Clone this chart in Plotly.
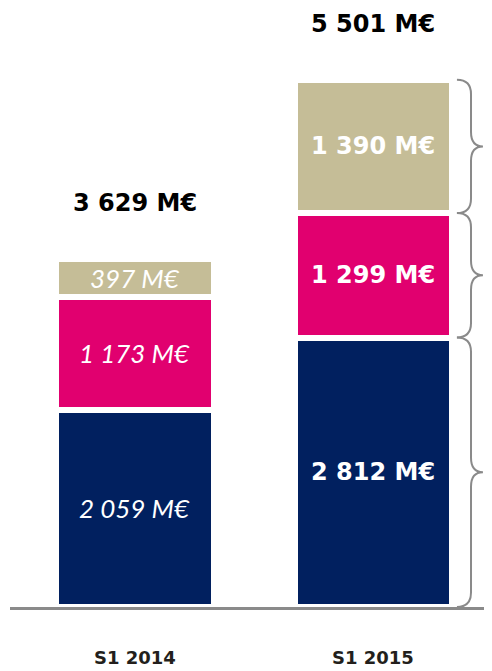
import plotly.graph_objects as go

categories = ["S1 2014", "S1 2015"]
series_names = ["Bas", "Milieu", "Haut"]
navy_vals = [2059, 2812]
pink_vals = [1173, 1299]
tan_vals = [397, 1390]
navy_labels = ["2 059 M€", "2 812 M€"]
pink_labels = ["1 173 M€", "1 299 M€"]
tan_labels = ["397 M€", "1 390 M€"]
total_labels = ["3 629 M€", "5 501 M€"]

NAVY = "#01205F"
PINK = "#E1006F"
TAN = "#C5BD97"
ITAL_FONT = "Lato"
BOLD_FONT = "DejaVu Sans"

xs = [0, 1]
bw = 0.662
fig = go.Figure()
for vals, col, name in [(navy_vals, NAVY, series_names[0]), (pink_vals, PINK, series_names[1]), (tan_vals, TAN, series_names[2])]:
    fig.add_trace(go.Bar(x=xs, y=vals, name=name, marker=dict(color=col, line=dict(color="white", width=6)),
                         width=bw, hoverinfo="skip"))

annotations = []
bottoms = [0, 0]
for vals, labs in [(navy_vals, navy_labels), (pink_vals, pink_labels), (tan_vals, tan_labels)]:
    for i in range(2):
        mid = bottoms[i] + vals[i] / 2
        if i == 0:
            f = dict(family=ITAL_FONT, size=26, color="white", style="italic", weight="normal")
        else:
            f = dict(family=BOLD_FONT, size=24, color="white", weight="bold")
        annotations.append(dict(x=xs[i], y=mid, text=labs[i], showarrow=False, xref="x", yref="y", font=f))
        bottoms[i] += vals[i]

totals = bottoms[:]
for i in range(2):
    annotations.append(dict(x=xs[i], y=totals[i], text=total_labels[i], showarrow=False, xref="x", yref="y",
                            yanchor="middle", yshift=56,
                            font=dict(family=BOLD_FONT, size=24, color="black", weight="bold")))
    annotations.append(dict(x=xs[i], y=0, text=categories[i], showarrow=False, xref="x", yref="y",
                            yanchor="middle", yshift=-50,
                            font=dict(family=BOLD_FONT, size=18, color="#231f1c", weight="bold")))

# braces next to the second bar, spanning each segment
shapes = []
seg_bounds = [0, navy_vals[1], navy_vals[1] + pink_vals[1], totals[1]]
xl, xc, xt = 1.350, 1.409, 1.459
r = 150
for k in range(3):
    a, b = seg_bounds[k], seg_bounds[k + 1]
    m = (a + b) / 2
    path = (f"M {xl},{b} Q {xc},{b} {xc},{b - r} L {xc},{m + r} Q {xc},{m} {xt},{m} "
            f"Q {xc},{m} {xc},{m - r} L {xc},{a + r} Q {xc},{a} {xl},{a}")
    shapes.append(dict(type="path", path=path, xref="x", yref="y",
                       line=dict(color="#8a8a8a", width=2)))

fig.update_layout(
    width=484, height=663,
    margin=dict(l=2, r=0, t=0, b=64),
    plot_bgcolor="white", paper_bgcolor="white",
    barmode="stack", showlegend=False,
    annotations=annotations, shapes=shapes,
    xaxis=dict(range=[-0.524, 1.497], showticklabels=False, showgrid=False, zeroline=False,
               showline=True, linecolor="#8a8a8a", linewidth=3, ticks=""),
    yaxis=dict(range=[0, 6250], visible=False, showgrid=False, zeroline=False),
)
fig.write_html("out.html")
